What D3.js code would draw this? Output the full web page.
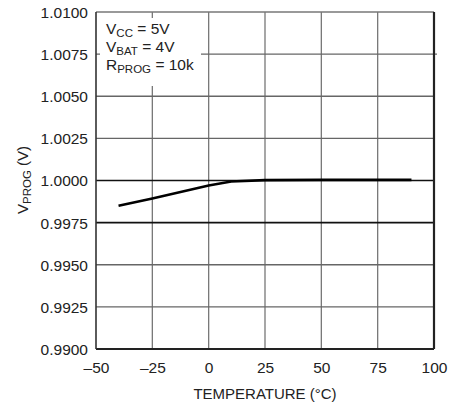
<!DOCTYPE html>
<html><head><meta charset="utf-8">
<script src="https://cdn.jsdelivr.net/npm/d3@7"></script>
<style>
html,body{margin:0;padding:0;background:#fff;}
text{font-family:"Liberation Sans",Arial,sans-serif;fill:#222;}
</style></head>
<body><svg id="c" width="455" height="405"></svg>
<script>
const temps = [-40, -25, 0, 10, 25, 50, 75, 90];
const vprog = [0.9985, 0.99893, 0.9997, 0.99994, 1.00002, 1.00004, 1.00004, 1.00004];
const xTicks = [-50, -25, 0, 25, 50, 75, 100];
const yTicks = [0.9900, 0.9925, 0.9950, 0.9975, 1.0000, 1.0025, 1.0050, 1.0075, 1.0100];
const darkY = [1.0000, 0.9975];

const svg = d3.select("#c");
const x = d3.scaleLinear().domain([-50, 100]).range([96, 434]);
const y = d3.scaleLinear().domain([0.9900, 1.0100]).range([349, 12]);

// gridlines
const g = svg.append("g");
g.selectAll("line.vx").data(xTicks.slice(1, -1)).join("line")
  .attr("x1", d => x(d)).attr("x2", d => x(d))
  .attr("y1", y.range()[1]).attr("y2", y.range()[0])
  .attr("stroke", "#777").attr("stroke-width", 1.3);
g.selectAll("line.hy").data(yTicks.slice(1, -1)).join("line")
  .attr("x1", x.range()[0]).attr("x2", d => d === 1.0075 ? x.range()[1] + 3 : x.range()[1])
  .attr("y1", d => y(d)).attr("y2", d => y(d))
  .attr("stroke", d => darkY.includes(d) ? "#111" : "#666")
  .attr("stroke-width", d => darkY.includes(d) ? 1.6 : 1.3);

// frame
const [x0, x1] = x.range(), [y0, y1] = [y.range()[1], y.range()[0]];
svg.append("line").attr("x1", x0).attr("x2", x1).attr("y1", y0).attr("y2", y0).attr("stroke", "#777").attr("stroke-width", 1.5);
svg.append("line").attr("x1", x0).attr("x2", x1).attr("y1", y1).attr("y2", y1).attr("stroke", "#222").attr("stroke-width", 2);
svg.append("line").attr("x1", x0).attr("x2", x0).attr("y1", y0).attr("y2", y1).attr("stroke", "#333").attr("stroke-width", 1.6);
svg.append("line").attr("x1", x1).attr("x2", x1).attr("y1", y0).attr("y2", y1).attr("stroke", "#222").attr("stroke-width", 2.2);

// annotation box
svg.append("rect").attr("x", 100).attr("y", 18).attr("width", 101).attr("height", 68).attr("fill", "#fff");
const ann = [["V", "CC", " = 5V"], ["V", "BAT", " = 4V"], ["R", "PROG", " = 10k"]];
ann.forEach((a, i) => {
  const t = svg.append("text").attr("x", 106).attr("y", 34 + i * 18).style("font-size", "15.5px");
  t.append("tspan").text(a[0]);
  t.append("tspan").attr("dy", 3).style("font-size", "11.5px").text(a[1]);
  t.append("tspan").attr("dy", -3).text(a[2]);
});

// data line
svg.append("path").datum(temps.map((t, i) => [t, vprog[i]]))
  .attr("d", d3.line().x(d => x(d[0])).y(d => y(d[1])))
  .attr("fill", "none").attr("stroke", "#000").attr("stroke-width", 2.6);

// axes labels
const ya = svg.append("g").attr("transform", `translate(${x0 - 8},0)`)
  .call(d3.axisLeft(y).tickValues(yTicks).tickSize(0).tickFormat(d3.format(".4f")));
ya.select(".domain").remove();
ya.selectAll("text").attr("x", 0).attr("dy", "0.35em").style("font-size", "15.5px").attr("fill", "#222")
  .style("font-family", "'Liberation Sans',Arial,sans-serif");

const xa = svg.append("g").attr("transform", `translate(0,${y1 + 13})`)
  .call(d3.axisBottom(x).tickValues(xTicks).tickSize(0).tickFormat(d => d < 0 ? "\u2013" + Math.abs(d) : String(d)));
xa.select(".domain").remove();
xa.selectAll("text").attr("y", 0).attr("dy", "0.71em").style("font-size", "15.5px").attr("fill", "#222")
  .style("font-family", "'Liberation Sans',Arial,sans-serif");

svg.append("text").attr("x", 265).attr("y", 399).attr("text-anchor", "middle").style("font-size", "15px").text("TEMPERATURE (\u00B0C)");

const yl = svg.append("text").attr("transform", "translate(28,180) rotate(-90)").attr("text-anchor", "middle").style("font-size", "15px");
yl.append("tspan").text("V");
yl.append("tspan").attr("dy", 3).style("font-size", "11.5px").text("PROG");
yl.append("tspan").attr("dy", -3).text(" (V)");
</script></body></html>
